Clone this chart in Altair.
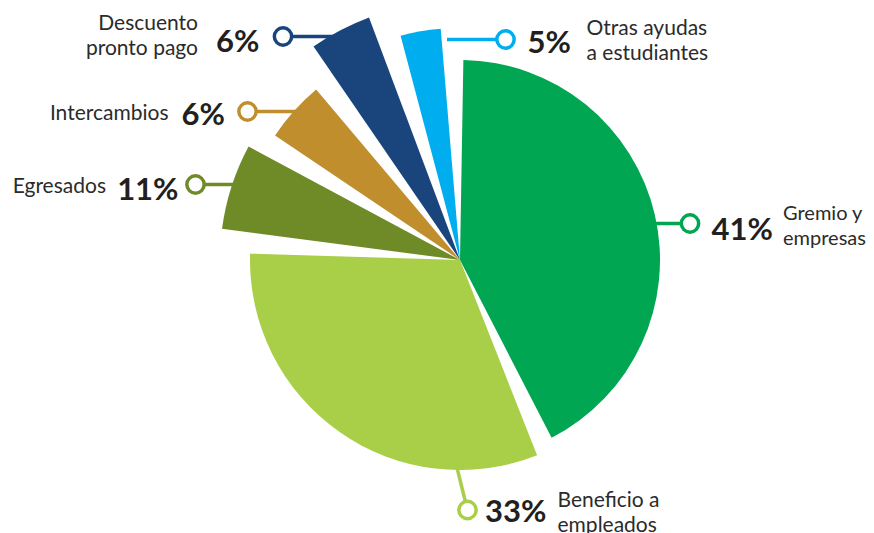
import math
import altair as alt
import pandas as pd

# ---- data ----
categories = ["Gremio y empresas", "Beneficio a empleados", "Egresados",
              "Intercambios", "Descuento pronto pago", "Otras ayudas a estudiantes"]
percent_labels = [41, 33, 11, 6, 6, 5]
# angular size (degrees) that each slice occupies in the drawing
slice_degrees = [157.5, 119.0, 26.5, 21.6, 19.6, 15.8]
label_lines = [["Gremio y", "empresas"], ["Beneficio a", "empleados"], ["Egresados"],
               ["Intercambios"], ["Descuento", "pronto pago"], ["Otras ayudas", "a estudiantes"]]

# ---- styles ----
COLORS = ["#00A651", "#A9CE47", "#6F8B27", "#C18E2E", "#1A447C", "#00AEEF"]
RADII = [200, 210, 240, 223, 259, 232]
CENTER = (452, 252)
START = math.radians(-1.9)
PAD = 0.1
TOTAL = sum(slice_degrees)

# annotation layout (chart pixel coords): line start, dot, percent text, label text, side, label font size
LAYOUT = [
    dict(lx=645, ly=215.5, dx=682, dy=215.5, px=703.5, py=231.5, tx=775, ty=211.5, side="R", fs=20),
    dict(lx=448.3, ly=457, dx=459.5, dy=502, px=477, py=513.5, tx=549.5, ty=498.5, side="R", fs=21),
    dict(lx=226, ly=176.5, dx=187.5, dy=176.5, px=170.5, py=191.5, tx=98, ty=184.5, side="L", fs=21),
    dict(lx=292, ly=103.5, dx=239.5, dy=103.5, px=217, py=117, tx=160.5, ty=111.5, side="L", fs=21),
    dict(lx=330, ly=28.5, dx=275, dy=28.5, px=251.5, py=43.5, tx=190, ty=21.5, side="L", fs=21),
    dict(lx=439, ly=31.5, dx=497.5, dy=31.5, px=519.5, py=44.5, tx=578.5, ty=27, side="R", fs=21),
]

rows = []
for i, cat in enumerate(categories):
    r = dict(idx=i, cat=cat, deg=slice_degrees[i], radius=RADII[i],
             pct=f"{percent_labels[i]}%", label=label_lines[i])
    r.update(LAYOUT[i])
    rows.append(r)
df = pd.DataFrame(rows)

color = alt.Color("cat:N", scale=alt.Scale(domain=categories, range=COLORS), legend=None)

base = alt.Chart(df)

pie = base.transform_window(
    cum="sum(deg)", sort=[alt.SortField("idx", order="ascending")],
    frame=[None, 0],
).transform_calculate(
    start="datum.cum - datum.deg"
).mark_arc(padAngle=PAD).encode(
    theta=alt.Theta("start:Q", stack=None,
                    scale=alt.Scale(domain=[0, TOTAL], range=[START, START + 2 * math.pi], zero=False, nice=False)),
    theta2="cum:Q",
    radius=alt.Radius("radius:Q", scale=None),
    color=color,
    x=alt.value(CENTER[0]),
    y=alt.value(CENTER[1]),
)

lines = base.mark_rule(strokeWidth=3.5).encode(
    x=alt.X("lx:Q", scale=None), y=alt.Y("ly:Q", scale=None),
    x2="dx:Q", y2="dy:Q", color=color,
)

dots = base.mark_point(shape="circle", filled=False, fill="white", fillOpacity=1,
                       strokeWidth=3.5, size=300, opacity=1).encode(
    x=alt.X("dx:Q", scale=None), y=alt.Y("dy:Q", scale=None), color=color,
)

def pct_text(side, align):
    return base.transform_filter(alt.datum.side == side).mark_text(
        font="Lato", fontSize=31, fontWeight="bold", color="#231F20",
        align=align, baseline="alphabetic").encode(
        x=alt.X("px:Q", scale=None), y=alt.Y("py:Q", scale=None), text="pct:N")

def lab_text(side, align):
    return base.transform_filter(alt.datum.side == side).mark_text(
        font="Lato", color="#2B2B2B", lineHeight=25,
        align=align, baseline="alphabetic").encode(
        x=alt.X("tx:Q", scale=None), y=alt.Y("ty:Q", scale=None), text="label",
        size=alt.Size("fs:Q", scale=None))

chart = alt.layer(
    pie, lines, dots,
    pct_text("R", "left"), pct_text("L", "right"),
    lab_text("R", "left"), lab_text("L", "right"),
).properties(
    width=858, height=525, padding=0, autosize=alt.AutoSizeParams(type="none"),
    background="white",
).configure_view(stroke=None)

chart.save("out.html", embed_options={"renderer": "svg", "actions": False})
